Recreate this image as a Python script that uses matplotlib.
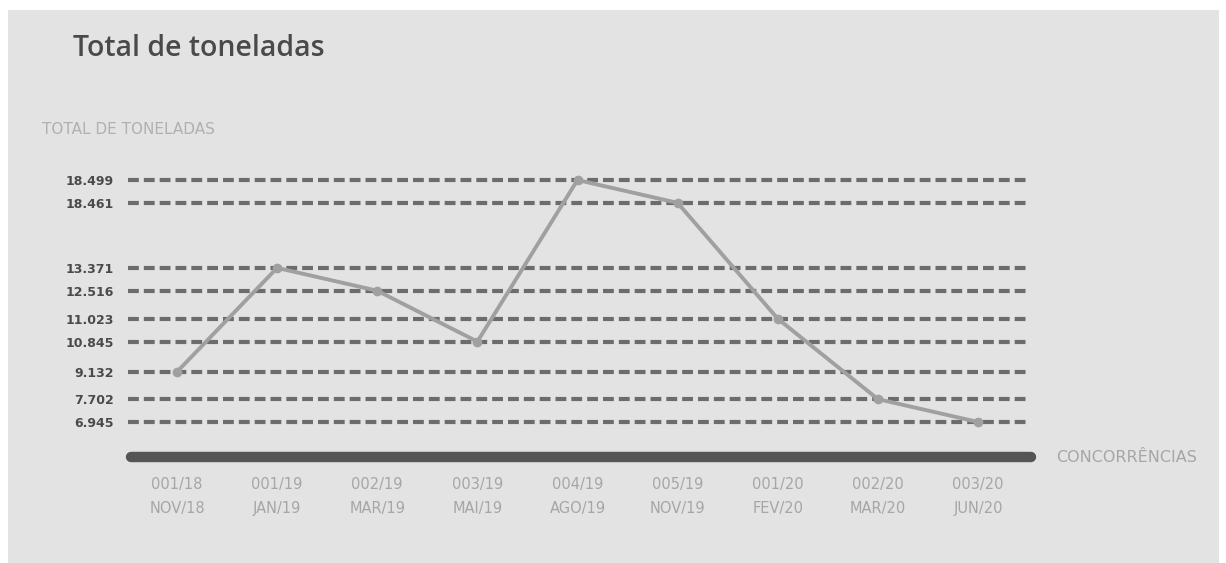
import matplotlib.pyplot as plt
import numpy as np
from matplotlib.lines import Line2D
from matplotlib.patches import Rectangle

# data (tonnes; labels use Brazilian thousands separator)
concorrencias = ["001/18", "001/19", "002/19", "003/19", "004/19", "005/19", "001/20", "002/20", "003/20"]
meses = ["NOV/18", "JAN/19", "MAR/19", "MAI/19", "AGO/19", "NOV/19", "FEV/20", "MAR/20", "JUN/20"]
toneladas = [9132, 13371, 12516, 10845, 18499, 18461, 11023, 7702, 6945]
tick_values = [18499, 18461, 13371, 12516, 11023, 10845, 9132, 7702, 6945]
tick_labels = ["18.499", "18.461", "13.371", "12.516", "11.023", "10.845", "9.132", "7.702", "6.945"]

BG = "#e3e3e3"
DASH = "#6c6c6c"
LINE = "#a0a0a0"
LIGHT = "#a6a6a6"
DARK = "#4a4a4a"

# squashed axis: each level gets one slot, big jumps (> 1000 t) get extra room
levels = np.array(sorted(tick_values), dtype=float)
gaps = np.diff(levels) / 1000.0
slots = np.concatenate([[0.0], np.cumsum(1.0 + 0.45 * np.clip(gaps - 1.0, 0, None))])


def forward(v):
    return np.interp(v, levels, slots)


def inverse(s):
    return np.interp(s, slots, levels)


W, H = 1226, 563
fig = plt.figure(figsize=(W / 100, H / 100), dpi=100)
fig.patch.set_facecolor("white")
fig.add_artist(Rectangle((8 / W, 0), (1219 - 8) / W, (H - 10) / H,
                         transform=fig.transFigure, facecolor=BG, edgecolor="none", zorder=-10))

ax_left, ax_right = 128 / W, 1036 / W
ax_top, ax_bot = 1 - 180 / H, 1 - 422 / H
ax = fig.add_axes([ax_left, ax_bot, ax_right - ax_left, ax_top - ax_bot])
ax.set_facecolor("none")
ax.set_yscale("function", functions=(forward, inverse))
ax.set_ylim(min(tick_values), max(tick_values))

x = np.arange(len(concorrencias))
px_per_unit = (978 - 177) / (len(x) - 1)
x0 = -(177 - 128) / px_per_unit
x1 = x0 + (1036 - 128) / px_per_unit
ax.set_xlim(x0, x1)
dash_end = x0 + (1028 - 128) / px_per_unit

for v in tick_values:
    ax.plot([x0, dash_end], [v, v], color=DASH, lw=3.0, dashes=(2.6, 1.2),
            solid_capstyle="butt", dash_capstyle="butt", clip_on=False, zorder=1)

ax.plot(x, toneladas, color=LINE, lw=2.8, marker="o", markersize=6,
        markerfacecolor=LINE, markeredgecolor=LINE, clip_on=False, zorder=3)

# thick base bar (category axis)
bar_y = -(457 - 422) / (422 - 180)
ax.add_line(Line2D([0.003, 0.995], [bar_y, bar_y], transform=ax.transAxes, color="#555555",
                   lw=7.5, solid_capstyle="round", clip_on=False))

ax.set_yticks(tick_values)
ax.set_yticklabels(tick_labels, fontsize=9, fontweight="bold", color=DARK)
ax.tick_params(axis="y", length=0, pad=10)
ax.set_xticks([])
for s in ax.spines.values():
    s.set_visible(False)

for i in x:
    ax.annotate(concorrencias[i], (i, 0), xycoords=("data", "axes fraction"),
                xytext=(0, -(484 - 422)), textcoords="offset pixels",
                ha="center", va="center", fontsize=10.5, color=LIGHT)
    ax.annotate(meses[i], (i, 0), xycoords=("data", "axes fraction"),
                xytext=(0, -(508 - 422)), textcoords="offset pixels",
                ha="center", va="center", fontsize=10.5, color=LIGHT)

fig.text(1056 / W, 1 - 457 / H, "CONCORRÊNCIAS", ha="left", va="center", fontsize=11.5, color=LIGHT)
fig.text(73 / W, 1 - 49 / H, "Total de toneladas", ha="left", va="center",
         fontsize=20.5, color=DARK, fontweight="semibold", family="Open Sans")
fig.text(42 / W, 1 - 130 / H, "TOTAL DE TONELADAS", ha="left", va="center", fontsize=11, color="#b0b0b0")

fig.savefig("out.png", dpi=100, facecolor=fig.get_facecolor())
